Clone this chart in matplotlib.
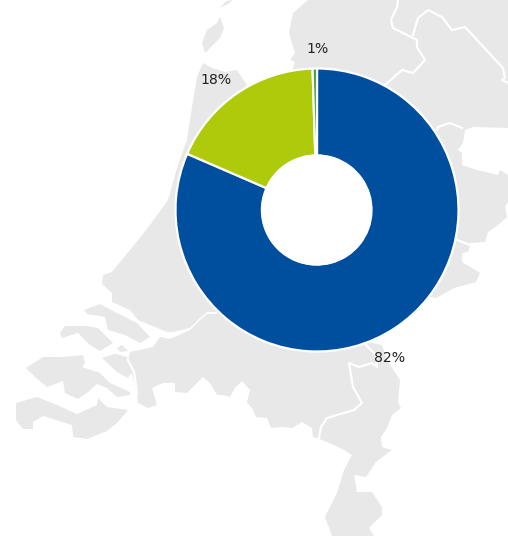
import matplotlib
matplotlib.use('Agg')
import matplotlib.pyplot as plt
from matplotlib.patches import Polygon, Circle

# pie data
values = [81.5, 18.0, 0.5]
labels = ['82%', '18%', '1%']
colors = ['#004f9f', '#afca0b', '#3aa535']

# background map, traced in pixels
land = [(137,393),(128,360),(130,352),(153,347),(160,337),(170,339),(190,330),(200,320),(207,314),(217,314),
        (217,312),(207,312),(200,318),(190,328),(173,332),(167,332),(138,320),(130,310),(112,302),(112,293),
        (102,284),(103,275),(112,272),(130,250),(150,225),(168,200),(178,165),(187,140),(192,107),(197,77),
        (203,63),(212,68),(225,72),(237,70),(250,90),(300,100),(292,72),(295,62),(290,60),(295,53),(289,33),
        (293,13),(308,0),(508,0),(508,128),(473,127),(465,130),(463,143),(458,150),(462,153),(462,165),
        (477,170),(498,175),(500,170),(508,175),(508,202),(505,207),(507,217),(498,225),(488,232),(485,242),
        (470,243),(470,246),(468,252),(462,253),(462,262),(480,273),(476,282),(454,288),(436,298),(431,297),
        (400,300),(367,342),(382,345),(387,360),(400,380),(398,402),(401,408),(392,415),(387,428),(381,437),
        (382,447),(392,450),(376,462),(366,477),(354,475),(357,492),(372,492),(382,507),(382,515),(369,528),
        (374,536),(332,536),(325,517),(337,493),(344,470),(352,455),(344,450),(334,445),(317,438),(313,437),
        (312,428),(302,422),(292,428),(282,427),(271,428),(267,418),(256,417),(253,410),(247,402),(250,390),
        (242,381),(235,388),(230,397),(223,395),(217,395),(210,383),(203,377),(193,387),(187,393),(175,392),
        (175,383),(163,383),(152,388),(157,405),(148,408),(138,403)]
texel = [(220,17),(224,28),(220,38),(205,53),(202,43),(207,30),(217,23)]
vlieland = [(220,8),(226,1),(233,0),(228,4)]
goeree = [(84,310),(100,304),(115,312),(137,323),(150,337),(140,343),(125,335),(108,330),(105,317),(87,314)]
schouwen = [(60,333),(65,326),(87,326),(98,328),(113,343),(100,351),(90,345),(78,333),(62,338)]
tholen_n = [(117,348),(122,345),(128,351),(120,352)]
tholen = [(102,358),(115,354),(127,357),(133,370),(128,378),(117,372)]
beveland = [(26,368),(43,357),(63,357),(83,355),(85,363),(82,367),(100,373),(110,383),(130,392),(130,395),
            (117,397),(107,388),(97,384),(88,392),(78,399),(65,393),(63,381),(47,387),(35,377)]
vlaanderen = [(16,403),(37,397),(57,405),(77,414),(97,405),(98,398),(107,407),(128,410),(117,423),(107,431),
              (87,439),(73,437),(72,425),(43,416),(33,422),(33,429),(23,429),(16,420)]
map_shapes = [land, texel, vlieland, goeree, schouwen, tholen_n, tholen, beveland, vlaanderen]

border_a = [(398,0),(397,7),(391,20),(393,28),(417,40),(417,47),(425,60),(413,73),(402,70),(385,85)]
border_b = [(413,35),(418,18),(428,10),(442,17),(452,30),(465,27),(503,68),(505,78),(502,80),(508,83)]
border_c = [(437,130),(438,127),(450,123),(462,128)]
border_d = [(457,240),(470,245)]
border_e = [(366,345),(376,355),(377,367),(372,363),(359,367),(349,363),(353,387),(362,403),(354,410),(327,418),
            (321,427),(319,438)]
border_f = [(128,360),(134,372),(137,393)]
map_borders = [border_a, border_b, border_c, border_d, border_e, border_f]

fig = plt.figure(figsize=(5.08, 5.36), dpi=100)

ax = fig.add_axes([0, 0, 1, 1])
ax.set_xlim(0, 508)
ax.set_ylim(536, 0)
ax.axis('off')

for shape in map_shapes:
    ax.add_patch(Polygon(shape, closed=True, fc='#e8e8e8', ec='none'))
for line in map_borders:
    ax.plot([p[0] for p in line], [p[1] for p in line], color='white', lw=1.6)

# donut on its own axes, centre (317,210), radius 141 px
cx, cy, r = 317, 210, 144
pie_ax = fig.add_axes([(cx-r)/508, 1-(cy+r)/536, 2*r/508, 2*r/536])
pie_ax.pie(values, colors=colors, startangle=90, counterclock=False, radius=141.5/144,
           wedgeprops=dict(width=87/144, edgecolor='white', linewidth=1.6))
pie_ax.add_patch(Circle((-0.7/144, 0), 55.5/144, fc='white', ec='none', zorder=5))
pie_ax.set_xlim(-1, 1)
pie_ax.set_ylim(-1, 1)

for txt, x, y in zip(labels, [390, 216, 318], [358, 80, 49]):
    ax.text(x, y, txt, ha='center', va='center', fontsize=10.2, color='#222222')

fig.savefig('out.png', dpi=100)
